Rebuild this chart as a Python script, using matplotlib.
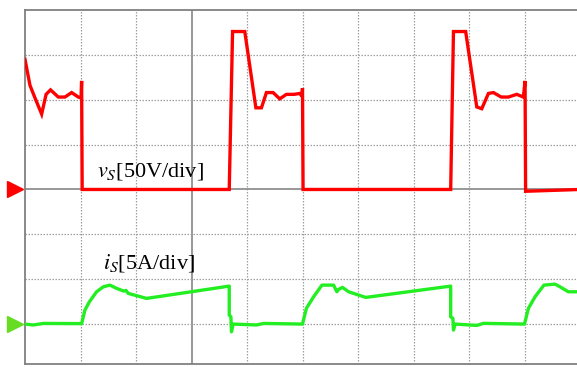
import matplotlib
matplotlib.use("Agg")
import matplotlib.pyplot as plt
import numpy as np

# time in divisions
t_v = [0, 0.09, 0.18, 0.30, 0.38, 0.46, 0.60, 0.72, 0.84, 0.96,
       1.01, 1.02, 1.03, 3.68, 3.74, 3.96, 4.16, 4.26, 4.35, 4.47,
       4.59, 4.71, 4.85, 4.95, 4.99, 5.00, 5.01, 7.67, 7.72, 7.94,
       8.14, 8.23, 8.35, 8.44, 8.58, 8.71, 8.86, 8.98, 9.01, 9.02, 10.0]
# switch voltage in volts
v_s = [145, 116, 102, 84, 106, 111, 103, 103, 108, 103,
       102, 121, 0, 0, 176, 176, 91, 91, 108, 108,
       101, 106, 106, 107, 104, 113, 0, 0, 176, 176,
       92, 90, 107, 108, 103, 103, 106, 103, 121, -2, 0]

t_i = [0, 0.15, 0.33, 1.02, 1.08, 1.16, 1.29, 1.41, 1.53, 1.65,
       1.78, 1.82, 1.86, 2.19, 3.68, 3.68, 3.71, 3.72, 3.75, 4.17,
       4.30, 5.00, 5.07, 5.20, 5.35, 5.56, 5.62, 5.65, 5.72, 5.83,
       6.14, 7.67, 7.67, 7.71, 7.72, 7.75, 8.14, 8.26, 9.00, 9.07,
       9.19, 9.35, 9.55, 9.64, 9.79, 10.0]
# switch current in amps
i_s = [0, -0.1, 0.07, 0.05, 1.56, 2.48, 3.6, 4.15, 4.34, 3.98,
       3.67, 3.75, 3.42, 2.86, 4.23, 1.0, 0.81, -0.86, 0, -0.1,
       0.07, 0, 1.75, 3.04, 4.34, 4.34, 3.6, 3.86, 4.09, 3.6,
       2.97, 4.23, 0.81, 0.63, -0.67, 0, -0.15, 0.08, 0, 1.75,
       3.04, 4.34, 4.45, 4.15, 3.6, 3.6]

v_scale = 50.0   # V/div
i_scale = 5.0    # A/div
v_zero = 4.0     # division of voltage ground marker
i_zero = 1.0     # division of current ground marker

label_v = r"$v_S$[50V/div]"
label_i = r"$i_S$[5A/div]"

plt.rcParams["mathtext.fontset"] = "stix"
plt.rcParams["font.family"] = ["Liberation Serif", "DejaVu Serif"]

W, H = 577, 367
fig = plt.figure(figsize=(W / 100, H / 100), dpi=100)
left_px, right_px, top_px, bot_px = 25, 580, 10, 364
ax = fig.add_axes([left_px / W, 1 - bot_px / H,
                   (right_px - left_px) / W, (bot_px - top_px) / H])
ax.set_xlim(0, 10)
ax.set_ylim(0.11, 8)
ax.set_xticks([])
ax.set_yticks([])

grid_c = "#a0a0a0"
for k in range(1, 10):
    if k == 3:
        ax.axvline(k, color="#909090", lw=1.3, zorder=1)
    else:
        ax.axvline(k, color=grid_c, lw=0.9, ls=(0, (1.2, 1.2)), zorder=1)
for k in range(1, 8):
    if k == 4:
        ax.axhline(k, color="#909090", lw=1.3, zorder=1)
    else:
        ax.axhline(k, color=grid_c, lw=0.9, ls=(0, (1.2, 1.2)), zorder=1)

for side in ["top", "left", "bottom"]:
    ax.spines[side].set_color("#808080")
    ax.spines[side].set_linewidth(1.3)
ax.spines["right"].set_visible(False)

ax.plot(t_v, v_zero + np.array(v_s) / v_scale, color="#ff0000", lw=2.4,
        solid_joinstyle="miter", zorder=3)
ax.plot(t_i, i_zero + np.array(i_s) / i_scale, color="#22ee22", lw=2.4,
        zorder=3)

ax.plot([-0.175], [v_zero], marker=">", color="#ff0000", ms=11,
        clip_on=False, ls="none")
ax.plot([-0.175], [i_zero], marker=">", color="#66dd22", ms=11,
        clip_on=False, ls="none")

ax.text(1.30, 4.40, label_v, fontsize=16, va="center", ha="left",
        color="black", zorder=4)
ax.text(1.40, 2.37, label_i, fontsize=16, va="center", ha="left",
        color="black", zorder=4)

fig.savefig("out.png", dpi=100)
